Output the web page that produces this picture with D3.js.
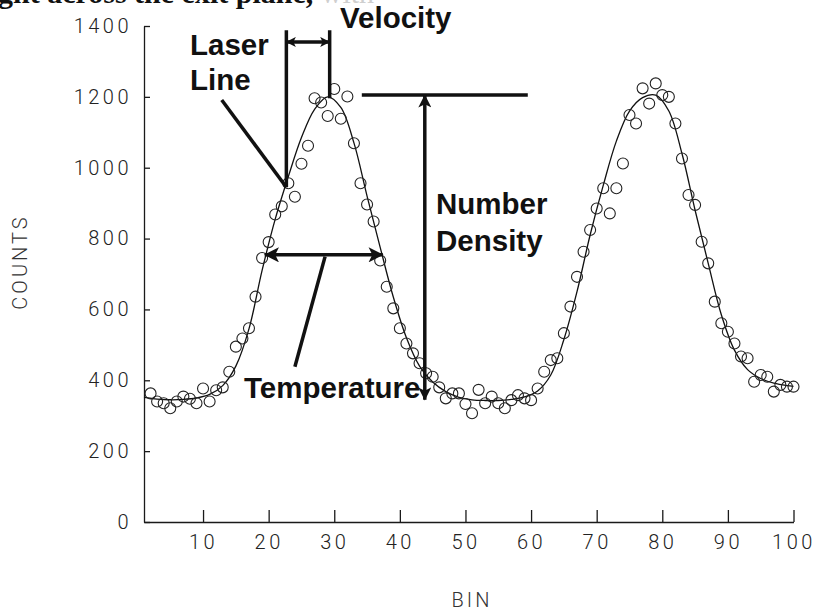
<!DOCTYPE html>
<html>
<head>
<meta charset="utf-8">
<script src="https://cdn.jsdelivr.net/npm/d3@7"></script>
<style>
  body { margin: 0; background: #fff; }
  svg { display: block; }
  .tick text { font-family: Roboto, "Liberation Sans", sans-serif; font-weight: 300; font-size: 20px; fill: #222; letter-spacing: 3.5px; }
  .axis path, .axis line { stroke: #1a1a1a; stroke-width: 1.3; }
  .note { font-family: "Liberation Sans", Arial, sans-serif; font-weight: bold; font-size: 29.5px; fill: #111; }
  .ann { stroke: #111; stroke-width: 3.5; fill: none; }
</style>
</head>
<body>
<svg id="chart"></svg>
<script>
// measured counts, one per bin starting at bin 2
const firstBin = 2;
const counts = [
  363, 340, 335, 321, 340, 354, 348, 335, 377, 340,
  372, 380, 424, 495, 518, 547, 636, 745, 790, 868,
  891, 956, 918, 1011, 1062, 1196, 1184, 1146, 1222, 1138,
  1201, 1069, 956, 896, 848, 738, 664, 603, 547, 504,
  476, 448, 420, 410, 380, 349, 363, 363, 333, 307,
  373, 335, 354, 335, 321, 344, 358, 349, 344, 377,
  424, 457, 462, 533, 608, 692, 763, 824, 885, 942,
  871, 942, 1012, 1149, 1125, 1224, 1181, 1238, 1205, 1200,
  1125, 1026, 923, 895, 791, 730, 622, 561, 537, 504,
  467, 462, 396, 415, 410, 368, 387, 382, 382
];

// fitted curve
const fitBins = [1, 3, 5, 7, 9, 11, 13, 15, 17, 19, 21, 23, 25, 27, 29, 31, 33, 35, 37, 39,
  41, 43, 45, 47, 49, 51, 53, 55, 57, 59, 61, 63, 65, 67, 69, 71, 73, 75, 77, 79,
  81, 83, 85, 87, 89, 91, 93, 95, 97, 99, 100];
const fitCounts = [352, 347, 345, 346, 350, 360, 385, 440, 545, 710, 855, 975, 1085, 1165, 1200, 1170, 1070, 920, 775, 635,
  520, 440, 395, 368, 352, 345, 343, 343, 346, 353, 370, 415, 515, 650, 810, 950, 1075, 1160, 1198, 1205,
  1160, 1040, 880, 730, 585, 485, 430, 405, 392, 385, 383];

const xTicks = [10, 20, 30, 40, 50, 60, 70, 80, 90, 100];
const yTicks = [0, 200, 400, 600, 800, 1000, 1200, 1400];

const width = 823, height = 612;
const svg = d3.select("#chart").attr("width", width).attr("height", height);

const x = d3.scaleLinear().domain([1, 100]).range([144, 793.5]);
const y = d3.scaleLinear().domain([0, 1400]).range([522, 26]);

// cropped caption line at the very top
const cap = svg.append("text").attr("x", -2).attr("y", 3)
  .style("font-family", "'Liberation Serif', 'Times New Roman', serif")
  .style("font-size", "30px");
cap.append("tspan").style("font-weight", "bold").attr("fill", "#111").text("ght across the exit plane, ");
cap.append("tspan").attr("fill", "#cfcfcf").text("with");

// annotation text (drawn first so the arrows sit on top)
const notes = [
  {t: "Velocity", x: 340, y: 28},
  {t: "Laser", x: 190, y: 55},
  {t: "Line", x: 190, y: 90},
  {t: "Number", x: 436, y: 214},
  {t: "Density", x: 436, y: 251},
  {t: "Temperature", x: 244, y: 398}
];
svg.append("g").selectAll("text")
  .data(notes)
  .enter().append("text")
  .attr("class", "note")
  .attr("x", d => d.x).attr("y", d => d.y)
  .text(d => d.t);

// axes
svg.append("g").attr("class", "axis")
  .attr("transform", `translate(0,${y(0)})`)
  .call(d3.axisBottom(x).tickValues(xTicks).tickFormat(d3.format("d"))
    .tickSizeInner(-12).tickSizeOuter(0).tickPadding(12.5));

svg.append("g").attr("class", "axis")
  .attr("transform", `translate(${x(1)},0)`)
  .call(d3.axisLeft(y).tickValues(yTicks).tickFormat(d3.format("d"))
    .tickSizeInner(-6).tickSizeOuter(0).tickPadding(12));

svg.append("text")
  .attr("transform", `translate(27,262) rotate(-90)`)
  .attr("text-anchor", "middle")
  .style("font-family", "Roboto, sans-serif").style("font-weight", 300)
  .style("font-size", "20px").style("letter-spacing", "3px").attr("fill", "#333")
  .text("COUNTS");

svg.append("text")
  .attr("x", 472).attr("y", 607)
  .attr("text-anchor", "middle")
  .style("font-family", "Roboto, sans-serif").style("font-weight", 300)
  .style("font-size", "20px").style("letter-spacing", "3px").attr("fill", "#333")
  .text("BIN");

// fitted line
const line = d3.line()
  .x((d, i) => x(fitBins[i]))
  .y(d => y(d))
  .curve(d3.curveCatmullRom);

svg.append("path")
  .datum(fitCounts)
  .attr("d", line)
  .attr("fill", "none")
  .attr("stroke", "#111")
  .attr("stroke-width", 1.3);

// data circles
svg.append("g")
  .selectAll("circle")
  .data(counts)
  .enter().append("circle")
  .attr("cx", (d, i) => x(firstBin + i))
  .attr("cy", d => y(d))
  .attr("r", 5.5)
  .attr("fill", "none")
  .attr("stroke", "#222")
  .attr("stroke-width", 1.1);

// arrow markers
function marker(id, len, wid) {
  svg.append("defs").append("marker")
    .attr("id", id)
    .attr("viewBox", "0 -5 10 10")
    .attr("refX", 9.5).attr("refY", 0)
    .attr("markerUnits", "userSpaceOnUse")
    .attr("markerWidth", len).attr("markerHeight", wid)
    .attr("orient", "auto-start-reverse")
    .append("path")
    .attr("d", "M0,-5L10,0L0,5L2.5,0Z")
    .attr("fill", "#111");
}
marker("arrSmall", 11, 10);
marker("arrMid", 17, 15);
marker("arrTall", 22, 13);

function seg(b1, v1, b2, v2) {
  return svg.append("line").attr("class", "ann")
    .attr("x1", x(b1)).attr("y1", y(v1))
    .attr("x2", x(b2)).attr("y2", y(v2));
}

// annotation positions in data units
const laserBin = 22.7, velBin = 29.3, annTop = 1388;

// laser line + velocity
seg(laserBin, annTop, laserBin, 945);
seg(velBin, annTop, velBin, 1196);
seg(laserBin, 1355, velBin, 1355)
  .attr("stroke-width", 3)
  .attr("marker-start", "url(#arrSmall)").attr("marker-end", "url(#arrSmall)");
seg(12.85, 1191, laserBin, 945);

// number density
seg(34.2, 1205, 59.5, 1205);
seg(43.8, 1205, 43.8, 345)
  .attr("stroke-width", 3)
  .attr("marker-start", "url(#arrTall)").attr("marker-end", "url(#arrTall)");

// temperature
seg(19.4, 754, 37.4, 754)
  .attr("marker-start", "url(#arrMid)").attr("marker-end", "url(#arrMid)");
seg(28.6, 749, 24.0, 438);
</script>
</body>
</html>
